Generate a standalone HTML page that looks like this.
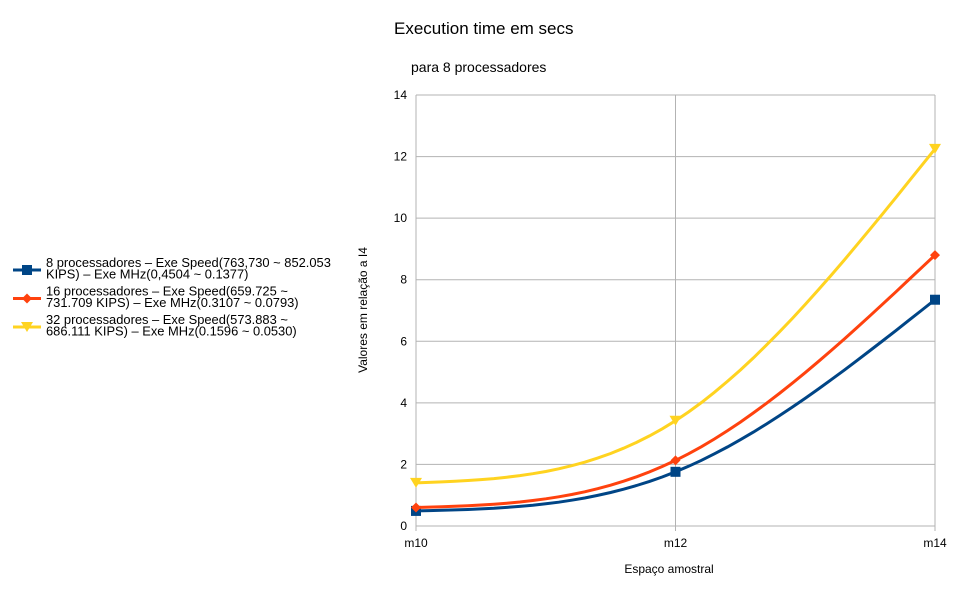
<!DOCTYPE html>
<html><head><meta charset="utf-8"><style>
body{margin:0;background:#fff;font-family:"Liberation Sans",sans-serif;}
svg text{font-family:"Liberation Sans",sans-serif;}
</style></head><body>
<svg id="chart" width="966" height="595">
<text x="394" y="34" font-size="17">Execution time em secs</text>
<text x="411" y="72" font-size="14">para 8 processadores</text>
<g id="grid"></g><g id="axes"></g><g id="series"></g>
<text x="669" y="573" font-size="12" text-anchor="middle">Espaço amostral</text>
<text transform="translate(367,310) rotate(-90)" font-size="12" text-anchor="middle">Valores em relação a I4</text>
<g id="legend" font-size="12.9"></g>
</svg>
<script>
const categories=["m10","m12","m14"];
const yTicks=[0,2,4,6,8,10,12,14];
const s8=[0.49,1.76,7.35];
const s16=[0.6,2.13,8.8];
const s32=[1.4,3.42,12.25];
const seriesNames=["8 processadores – Exe Speed(763,730 ~ 852.053|KIPS) – Exe MHz(0,4504 ~ 0.1377)","16 processadores – Exe Speed(659.725 ~|731.709 KIPS) – Exe MHz(0.3107 ~ 0.0793)","32 processadores – Exe Speed(573.883 ~|686.111 KIPS) – Exe MHz(0.1596 ~ 0.0530)"];
const NS="http://www.w3.org/2000/svg";
const X0=416,X1=935,Y0=526,Y1=95;
const xs=i=>X0+i*(X1-X0)/(categories.length-1);
const ys=v=>Y0-v*(Y0-Y1)/14;
function mk(t,a,p){const e=document.createElementNS(NS,t);for(const k in a)e.setAttribute(k,a[k]);p.appendChild(e);return e;}
const grid=document.getElementById('grid'),axes=document.getElementById('axes'),ser=document.getElementById('series'),leg=document.getElementById('legend');
yTicks.forEach(v=>{
 const l=mk('line',{x1:X0,x2:X1,y1:ys(v),y2:ys(v),stroke:'#b3b3b3'},grid);
 
 
 const t=mk('text',{x:X0-9,y:ys(v)+4,'font-size':12,'text-anchor':'end'},axes);t.textContent=v;
 
 
});
categories.forEach((c,i)=>{
 const l=mk('line',{x1:xs(i),x2:xs(i),y1:Y1,y2:Y0+5,stroke:'#b3b3b3'},grid);
 
 
 const t=mk('text',{x:xs(i),y:Y0+21,'font-size':12,'text-anchor':'middle'},axes);t.textContent=c;
 
 
});
function spline(v){
 const n=v.length; const M=new Array(n).fill(0);
 if(n===3){M[1]=6*(v[0]-2*v[1]+v[2])/4;}
 let d='';
 for(let i=0;i<n-1;i++){for(let s=0;s<=20;s++){const t=s/20;
  const y=(1-t)*v[i]+t*v[i+1]+((Math.pow(1-t,3)-(1-t))*M[i]+(Math.pow(t,3)-t)*M[i+1])/6;
  d+=(d?'L':'M')+(xs(i)+t*(xs(i+1)-xs(i))).toFixed(1)+','+ys(y).toFixed(1);}}
 return d;}
function marker(type,x,y,c,p){
 if(type==='sq')return mk('rect',{x:x-5,y:y-5,width:10,height:10,fill:c},p);
 if(type==='di')return mk('polygon',{points:`${x},${y-5} ${x+5},${y} ${x},${y+5} ${x-5},${y}`,fill:c},p);
 return mk('polygon',{points:`${x-6},${y-5} ${x+6},${y-5} ${x},${y+5}`,fill:c},p);
}
const all=[[s8,'#004586','sq','series-8-proc'],[s16,'#ff420e','di','series-16-proc'],[s32,'#ffd320','tr','series-32-proc']];
all.forEach(([vals,c,m,name],k)=>{
 const p=mk('path',{d:spline(vals),fill:'none',stroke:c,'stroke-width':3},ser);
 
 
 vals.forEach((v,i)=>{const e=marker(m,xs(i),ys(v),c,ser);
  
  });
 const ly=270+k*28.5;
 const ll=mk('line',{x1:13,x2:41,y1:ly,y2:ly,stroke:c,'stroke-width':3},leg);
 
 
 marker(m,27,ly,c,leg);
 const lines=seriesNames[k].split('|');
 const t=mk('text',{x:46,y:ly-3},leg);
 
 
 lines.forEach((s,j)=>{const ts=mk('tspan',{x:46,dy:j?11.5:0},t);ts.textContent=s;});
});
</script>
</body></html>
